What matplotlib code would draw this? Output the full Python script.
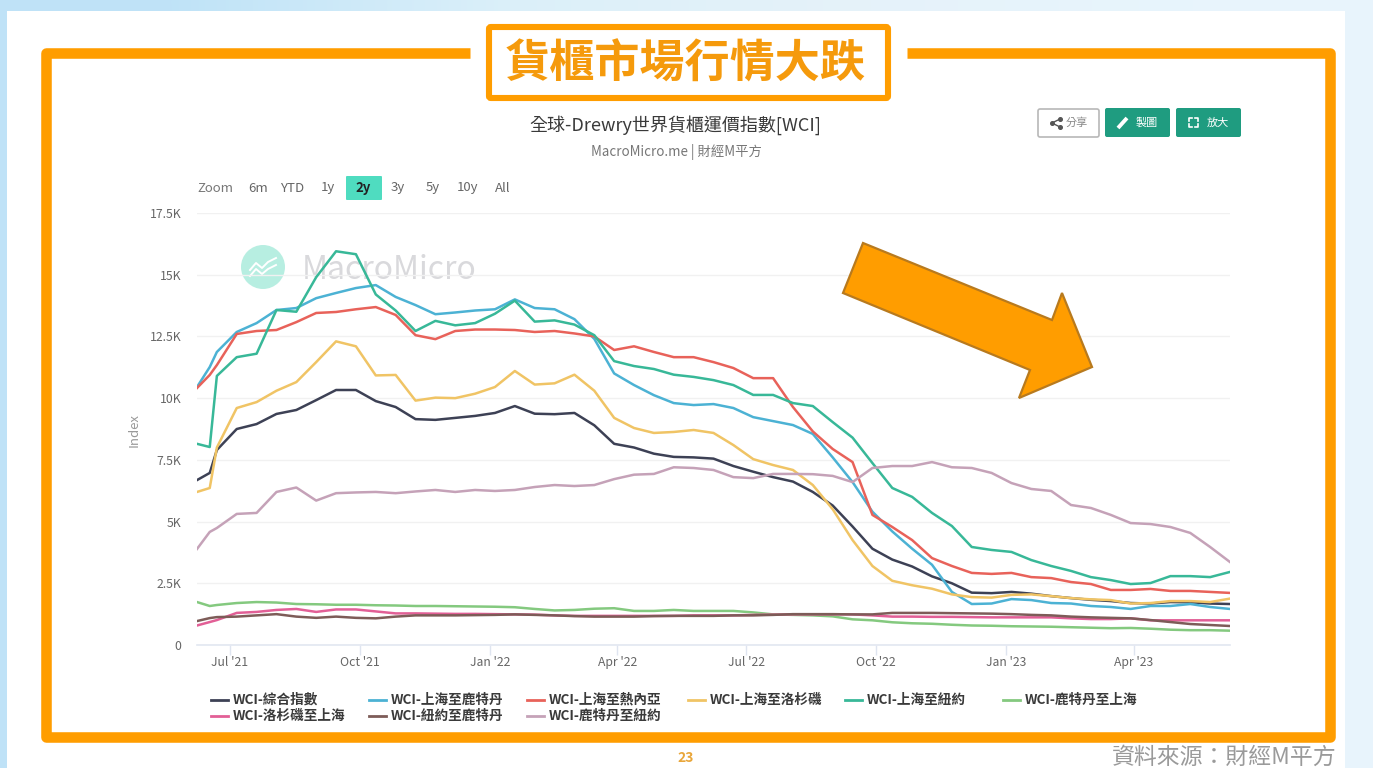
import pandas as pd
import numpy as np
import matplotlib
matplotlib.use('Agg')
import matplotlib.pyplot as plt
import matplotlib.dates as mdates
from matplotlib.patches import Circle, FancyBboxPatch, Polygon, Rectangle
from matplotlib.ticker import FuncFormatter

plt.rcParams['font.family'] = ['Noto Sans CJK TC', 'DejaVu Sans']

# dates: two-week steps over the axis, plus one extra point for the jump in June 2021
week_dates = pd.date_range('2021-06-08', '2023-06-08', periods=53)
dates = week_dates.insert(1, pd.Timestamp('2021-06-17'))

# values in thousands of index points
composite = [6.68, 6.97, 7.9, 8.75, 8.95, 9.36, 9.52, 9.92, 10.33, 10.33, 9.88, 9.64, 9.15, 9.12, 9.2, 9.28, 9.4, 9.68,
             9.37, 9.35, 9.4, 8.9, 8.15, 8.0, 7.75, 7.62, 7.6, 7.55, 7.25, 7.02, 6.8, 6.62, 6.2, 5.65, 4.8, 3.9, 3.46,
             3.18, 2.78, 2.5, 2.12, 2.1, 2.15, 2.08, 1.98, 1.9, 1.83, 1.78, 1.7, 1.68, 1.74, 1.73, 1.68, 1.66]
sh_rotterdam = [10.45, 11.26, 11.87, 12.68, 13.04, 13.57, 13.65, 14.05, 14.26, 14.46, 14.58, 14.1, 13.77, 13.4, 13.47,
                13.55, 13.6, 14.0, 13.65, 13.6, 13.2, 12.4, 11.0, 10.53, 10.12, 9.8, 9.72, 9.76, 9.6, 9.23, 9.07, 8.91,
                8.55, 7.6, 6.6, 5.4, 4.6, 3.9, 3.25, 2.15, 1.66, 1.68, 1.86, 1.82, 1.7, 1.68, 1.58, 1.54, 1.46, 1.58,
                1.58, 1.66, 1.54, 1.46]
sh_genoa = [10.41, 10.94, 11.34, 12.6, 12.72, 12.76, 13.08, 13.45, 13.49, 13.6, 13.69, 13.37, 12.55, 12.39, 12.72, 12.78,
            12.78, 12.76, 12.68, 12.72, 12.62, 12.5, 11.95, 12.1, 11.87, 11.66, 11.66, 11.46, 11.22, 10.81, 10.81, 9.64,
            8.65, 7.94, 7.41, 5.27, 4.78, 4.25, 3.52, 3.2, 2.92, 2.88, 2.92, 2.75, 2.71, 2.55, 2.47, 2.23, 2.23, 2.27,
            2.19, 2.19, 2.15, 2.11]
sh_la = [6.2, 6.36, 8.0, 9.6, 9.84, 10.3, 10.65, 11.46, 12.3, 12.1, 10.92, 10.94, 9.9, 10.02, 10.0, 10.18, 10.45, 11.1,
         10.55, 10.6, 10.95, 10.3, 9.2, 8.79, 8.59, 8.63, 8.71, 8.59, 8.1, 7.53, 7.29, 7.09, 6.48, 5.5, 4.25, 3.2, 2.6,
         2.42, 2.28, 2.05, 1.94, 1.92, 2.03, 2.05, 1.98, 1.9, 1.85, 1.82, 1.68, 1.7, 1.78, 1.78, 1.74, 1.88]
sh_ny = [8.15, 8.02, 10.9, 11.66, 11.8, 13.57, 13.5, 14.9, 15.95, 15.83, 14.2, 13.55, 12.72, 13.13, 12.95, 13.04, 13.42,
         13.95, 13.1, 13.15, 12.98, 12.55, 11.5, 11.3, 11.18, 10.95, 10.86, 10.73, 10.53, 10.13, 10.13, 9.8, 9.68, 9.03,
         8.4, 7.37, 6.36, 6.0, 5.35, 4.82, 3.97, 3.85, 3.77, 3.44, 3.2, 3.0, 2.75, 2.63, 2.47, 2.51, 2.79, 2.79, 2.75,
         2.96]
rot_sh = [1.74, 1.58, 1.62, 1.7, 1.74, 1.72, 1.66, 1.65, 1.63, 1.63, 1.61, 1.6, 1.58, 1.58, 1.57, 1.56, 1.55, 1.53, 1.46,
          1.4, 1.42, 1.47, 1.49, 1.38, 1.38, 1.42, 1.38, 1.38, 1.38, 1.32, 1.24, 1.22, 1.2, 1.16, 1.04, 1.0, 0.92, 0.88,
          0.86, 0.82, 0.79, 0.78, 0.76, 0.75, 0.74, 0.72, 0.7, 0.68, 0.69, 0.66, 0.62, 0.6, 0.6, 0.58]
la_sh = [0.79, 0.93, 1.01, 1.3, 1.34, 1.42, 1.46, 1.34, 1.44, 1.44, 1.36, 1.28, 1.28, 1.27, 1.26, 1.26, 1.25, 1.24, 1.23,
         1.2, 1.18, 1.18, 1.18, 1.18, 1.18, 1.18, 1.2, 1.2, 1.2, 1.22, 1.23, 1.24, 1.24, 1.24, 1.24, 1.2, 1.15, 1.15,
         1.14, 1.14, 1.13, 1.12, 1.12, 1.12, 1.12, 1.08, 1.05, 1.05, 1.08, 1.0, 1.0, 1.0, 1.0, 1.0]
ny_rot = [0.97, 1.09, 1.13, 1.15, 1.2, 1.25, 1.15, 1.1, 1.15, 1.1, 1.08, 1.15, 1.2, 1.2, 1.2, 1.21, 1.22, 1.24, 1.22, 1.2,
          1.17, 1.15, 1.15, 1.15, 1.17, 1.18, 1.18, 1.18, 1.2, 1.2, 1.22, 1.25, 1.25, 1.25, 1.24, 1.24, 1.3, 1.3, 1.3,
          1.29, 1.28, 1.27, 1.25, 1.22, 1.2, 1.15, 1.12, 1.1, 1.08, 1.01, 0.93, 0.85, 0.81, 0.77]
rot_ny = [3.89, 4.58, 4.74, 5.31, 5.35, 6.2, 6.38, 5.85, 6.15, 6.18, 6.2, 6.15, 6.22, 6.28, 6.2, 6.28, 6.24, 6.28, 6.4,
          6.48, 6.44, 6.48, 6.72, 6.9, 6.93, 7.2, 7.17, 7.09, 6.8, 6.76, 6.93, 6.93, 6.92, 6.85, 6.6, 7.17, 7.25, 7.25,
          7.41, 7.2, 7.17, 6.97, 6.56, 6.32, 6.24, 5.67, 5.55, 5.27, 4.94, 4.9, 4.78, 4.54, 3.97, 3.36]

series_names = ['WCI-綜合指數', 'WCI-上海至鹿特丹', 'WCI-上海至熱內亞', 'WCI-上海至洛杉磯', 'WCI-上海至紐約',
                'WCI-鹿特丹至上海', 'WCI-洛杉磯至上海', 'WCI-紐約至鹿特丹', 'WCI-鹿特丹至紐約']
series_values = [composite, sh_rotterdam, sh_genoa, sh_la, sh_ny, rot_sh, la_sh, ny_rot, rot_ny]
series_colors = ['#3d4155', '#4cb2d4', '#e8625a', '#f0c465', '#38b898', '#84c97f', '#e25f96', '#7d5c58', '#c5a2b8']

y_ticks = [0, 2500, 5000, 7500, 10000, 12500, 15000, 17500]
x_tick_dates = ['2021-07-01', '2021-10-01', '2022-01-01', '2022-04-01', '2022-07-01', '2022-10-01', '2023-01-01',
                '2023-04-01']
range_buttons = ['6m', 'YTD', '1y', '2y', '3y', '5y', '10y', 'All']

ORANGE = '#ff9d00'
W, H = 1373, 768


def k_formatter(x, pos):
    if x == 0:
        return '0'
    return f"{x / 1000:g}K"


fig = plt.figure(figsize=(W / 100, H / 100), dpi=100)

# page layer in pixel coordinates, below the chart
bg = fig.add_axes([0, 0, 1, 1], zorder=0)
bg.set_xlim(0, W)
bg.set_ylim(H, 0)
bg.axis('off')
gradient = np.array([[[0.75, 0.89, 0.97], [0.86, 0.94, 0.98], [0.90, 0.95, 0.98], [0.91, 0.96, 0.99]]])
bg.imshow(gradient, extent=[0, W, H, 0], aspect='auto', interpolation='bilinear')
bg.set_xlim(0, W)
bg.set_ylim(H, 0)
bg.add_patch(Rectangle((7, 11), 1338, H - 11, color='white', lw=0))

# orange frame with a gap for the headline
bg.plot([470, 46, 46, 1330, 1330, 907], [52.5, 52.5, 737, 737, 52.5, 52.5], color=ORANGE, lw=7.6,
        solid_joinstyle='round', solid_capstyle='butt')
bg.add_patch(FancyBboxPatch((489, 27), 399, 71, boxstyle='round,pad=0,rounding_size=2', fc='white', ec=ORANGE, lw=4.4))
bg.text(685, 65, '貨櫃市場行情大跌', fontsize=32.5, color='#f59a0c', fontweight='bold', ha='center', va='center')

bg.text(675, 125, '全球-Drewry世界貨櫃運價指數[WCI]', fontsize=13, color='#3a3a3a', ha='center', va='center')
bg.text(676, 152, 'MacroMicro.me | 財經M平方', fontsize=9.6, color='#777777', ha='center', va='center')

# share / draw / enlarge buttons
bg.add_patch(FancyBboxPatch((1038, 109), 61, 28, boxstyle='round,pad=0,rounding_size=2', fc='white', ec='#b8b8b8', lw=1.2))
bg.add_patch(FancyBboxPatch((1105, 108), 65, 29, boxstyle='round,pad=0,rounding_size=2', fc='#1f9c80', ec='none'))
bg.add_patch(FancyBboxPatch((1176, 108), 65, 29, boxstyle='round,pad=0,rounding_size=2', fc='#1f9c80', ec='none'))
bg.plot([1060, 1052, 1060], [119, 123, 127], color='#555555', lw=1, marker='o', ms=2.6)
bg.text(1077, 123, '分享', fontsize=8, color='#888888', ha='center', va='center')
bg.plot([1118, 1127], [128, 118], color='white', lw=2.8, solid_capstyle='butt')
bg.text(1147, 123, '製圖', fontsize=8, color='white', ha='center', va='center')
for sx, sy in [(1189, 118), (1198, 118), (1189, 127), (1198, 127)]:
    dx = 3 if sx == 1189 else -3
    dy = 3 if sy == 118 else -3
    bg.plot([sx + dx, sx, sx], [sy, sy, sy + dy], color='white', lw=1.2)
bg.text(1218, 123, '放大', fontsize=8, color='white', ha='center', va='center')

# range selector
bg.text(197, 188, 'Zoom', fontsize=9.5, color='#777777', va='center')
bg.add_patch(FancyBboxPatch((346, 176), 36, 24, boxstyle='round,pad=0,rounding_size=1', fc='#4fdcc0', ec='none'))
for label, bx in zip(range_buttons, [258, 292, 328, 363, 398, 433, 468, 503]):
    bg.text(bx, 188, label, fontsize=9.5, color='#222222' if label == '2y' else '#666666',
            fontweight='bold' if label == '2y' else 'normal', ha='center', va='center')

# watermark
bg.add_patch(Circle((263, 267), 22, color='#b7eee1', lw=0))
bg.plot([250, 256, 262, 268, 276], [270, 263, 268, 262, 258], color='white', lw=1.4)
bg.plot([250, 256, 262, 268, 276], [276, 269, 274, 269, 265], color='white', lw=1.4)
bg.text(302, 270, 'MacroMicro', fontsize=23, color='#d9d9dc', va='center')

bg.text(134, 430, 'Index', fontsize=9.5, color='#999999', rotation=90, ha='center', va='center')
bg.text(686, 758, '23', fontsize=10, color='#e9a63a', fontweight='bold', ha='center', va='center')
bg.text(1224, 757, '資料來源：財經M平方', fontsize=16.5, color='#9a9a9a', ha='center', va='center')

# legend, columns are not even so it is placed by hand
legend_x = [211, 369, 527, 688, 845, 1003, 211, 369, 527]
legend_y = [700, 700, 700, 700, 700, 700, 716, 716, 716]
for name, color, lx, ly in zip(series_names, series_colors, legend_x, legend_y):
    bg.plot([lx, lx + 17], [ly, ly], color=color, lw=2)
    bg.text(lx + 22, ly, name, fontsize=9.8, color='#3a3a3a', fontweight='bold', va='center')

# chart
ax = fig.add_axes([197 / W, 1 - 645 / H, (1230 - 197) / W, (645 - 213) / H], zorder=1)
ax.patch.set_visible(False)
for values, color, name in zip(series_values, series_colors, series_names):
    ax.plot(dates, np.array(values) * 1000, color=color, lw=1.8, label=name)

ax.set_xlim(pd.Timestamp('2021-06-08'), pd.Timestamp('2023-06-08'))
ax.set_ylim(0, 17500)
ax.set_yticks(y_ticks)
ax.yaxis.set_major_formatter(FuncFormatter(k_formatter))
ax.set_xticks(pd.to_datetime(x_tick_dates))
ax.xaxis.set_major_formatter(mdates.DateFormatter("%b '%y"))
ax.tick_params(axis='y', length=0, pad=11.5, labelsize=8.8, labelcolor='#666666')
ax.tick_params(axis='x', length=7.5, width=1, color='#dfe5f0', pad=0.5, labelsize=8.8, labelcolor='#666666')
ax.grid(axis='y', color='#f1f1f1', lw=1)
ax.set_axisbelow(True)
for side in ['top', 'right', 'left']:
    ax.spines[side].set_visible(False)
ax.spines['bottom'].set_color('#e2e7f1')
ax.spines['bottom'].set_linewidth(1.2)

# big arrow on top
top = fig.add_axes([0, 0, 1, 1], zorder=2)
top.set_xlim(0, W)
top.set_ylim(H, 0)
top.axis('off')
top.add_patch(Polygon([(863, 243), (1052, 320), (1062, 293), (1092, 367), (1019, 398), (1030, 370), (843, 293)],
                      closed=True, fc=ORANGE, ec='#b87a1e', lw=1.6))

fig.savefig('out.png', dpi=100)
